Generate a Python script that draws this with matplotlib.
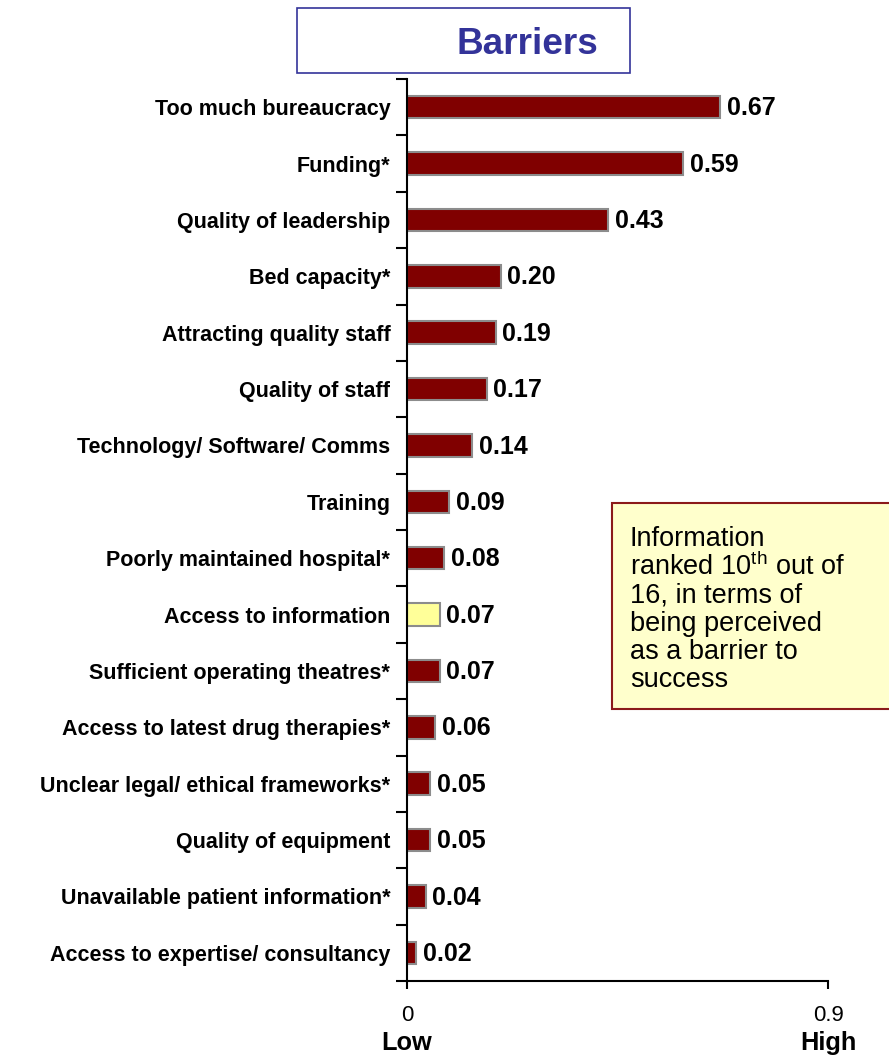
import matplotlib
matplotlib.use("Agg")
import matplotlib.pyplot as plt
from matplotlib.patches import Rectangle
from matplotlib.ticker import FixedLocator
import matplotlib.transforms as mtransforms

plt.rcParams["font.family"] = ["Liberation Sans", "DejaVu Sans"]
plt.rcParams["mathtext.fontset"] = "custom"
plt.rcParams["mathtext.rm"] = "Liberation Sans"

categories = [
    "Too much bureaucracy",
    "Funding*",
    "Quality of leadership",
    "Bed capacity*",
    "Attracting quality staff",
    "Quality of staff",
    "Technology/ Software/ Comms",
    "Training",
    "Poorly maintained hospital*",
    "Access to information",
    "Sufficient operating theatres*",
    "Access to latest drug therapies*",
    "Unclear legal/ ethical frameworks*",
    "Quality of equipment",
    "Unavailable patient information*",
    "Access to expertise/ consultancy",
]
values = [0.67, 0.59, 0.43, 0.20, 0.19, 0.17, 0.14, 0.09, 0.08, 0.07, 0.07,
          0.06, 0.05, 0.05, 0.04, 0.02]
highlight = "Access to information"
note_lines = ["Information", "ranked 10$^{\\mathrm{th}}$ out of", "16, in terms of",
              "being perceived", "as a barrier to", "success"]

W, H = 889, 1057
fig = plt.figure(figsize=(W / 100, H / 100), dpi=100)
ax = fig.add_axes([407 / W, 1 - 981 / H, 421 / W, 902 / H])

ypos = list(range(len(categories)))
colors = ["#FFFF99" if c == highlight else "#800000" for c in categories]
ax.barh(ypos, values, height=0.4, color=colors, edgecolor="#8C8C8C", linewidth=1.5)

for y, v in zip(ypos, values):
    ax.text(v + 0.014, y + 0.02, f"{v:.2f}", va="center", ha="left",
            fontsize=18, fontweight="bold")

ax.set_xlim(0, 0.9)
ax.set_ylim(len(categories) - 0.5, -0.5)
ax.spines["top"].set_visible(False)
ax.spines["right"].set_visible(False)
ax.spines["left"].set_linewidth(1.5)
ax.spines["bottom"].set_linewidth(1.5)

ax.set_yticks(ypos)
ax.set_yticklabels(categories, fontsize=15.5, fontweight="bold")
ax.tick_params(axis="y", which="major", length=0, pad=12)
ax.yaxis.set_minor_locator(FixedLocator([i - 0.5 for i in range(len(categories) + 1)]))
ax.tick_params(axis="y", which="minor", length=8, width=1.5, direction="out")

ax.set_xticks([0, 0.9])
ax.set_xticklabels(["0", "0.9"], fontsize=16)
ax.tick_params(axis="x", length=6, width=1.5, pad=11)

trans = mtransforms.blended_transform_factory(ax.transData, fig.transFigure)
ax.text(0, 1 - 1043 / H, "Low", transform=trans, ha="center", va="center",
        fontsize=18.3, fontweight="bold")
ax.text(0.9, 1 - 1043 / H, "High", transform=trans, ha="center", va="center",
        fontsize=18.3, fontweight="bold")

# title box
fig.patches.append(Rectangle((297 / W, 1 - 73 / H), (630 - 297) / W, 65 / H,
                             transform=fig.transFigure, facecolor="white",
                             edgecolor="#333399", linewidth=1.2))
fig.text(527 / W, 1 - 44 / H, "Barriers", ha="center", va="center",
         fontsize=26.6, fontweight="bold", color="#333399")

# annotation box
fig.patches.append(Rectangle((612 / W, 1 - 709 / H), (W - 612) / W + 0.01, 206 / H,
                             transform=fig.transFigure, facecolor="#FFFFCC",
                             edgecolor="#8B1A1A", linewidth=1.5))
for i, line in enumerate(note_lines):
    fig.text(630 / W, 1 - (536 + 28.2 * i) / H, line, ha="left", va="center_baseline",
             fontsize=19.5)

fig.savefig("out.png", dpi=100)
